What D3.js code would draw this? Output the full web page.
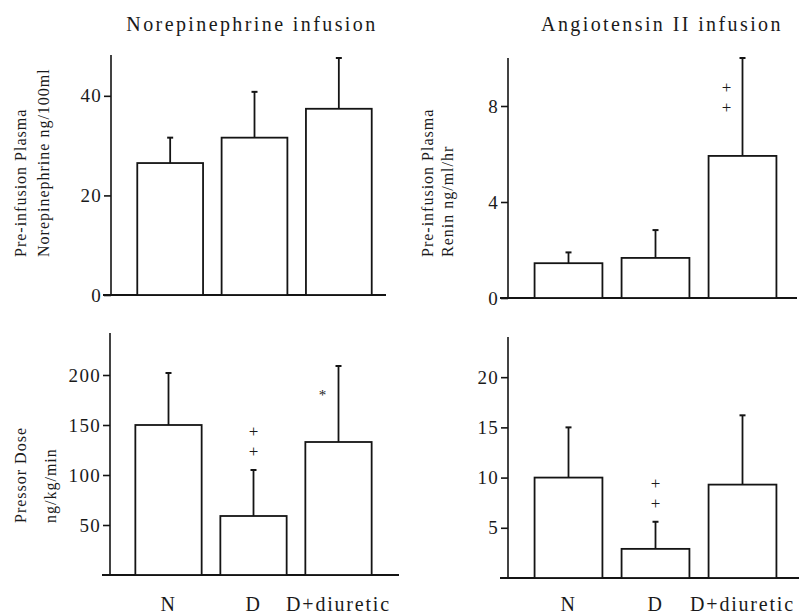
<!DOCTYPE html>
<html>
<head>
<meta charset="utf-8">
<script src="https://cdn.jsdelivr.net/npm/d3@7"></script>
<style>
  body { margin: 0; background: #fff; }
  svg { display: block; }
  text { font-family: "Liberation Serif", "DejaVu Serif", serif; fill: #1a1a1a; }
  .tick text { font-size: 19px; letter-spacing: 1.3px; }
</style>
</head>
<body>
<svg width="799" height="615"></svg>
<script>

const groups = ['N', 'D', 'D+diuretic'];

// pre-infusion plasma norepinephrine, ng/100ml (mean, sem)
const neBaseline = [26.5, 31.6, 37.4];
const neBaselineErr = [5.1, 9.2, 10.2];

// pre-infusion plasma renin, ng/ml/hr
const reninBaseline = [1.45, 1.67, 5.92];
const reninBaselineErr = [0.45, 1.16, 4.08];

// pressor dose, ng/kg/min
const nePressor = [150, 59, 133];
const nePressorErr = [52, 46, 76];

const angPressor = [10, 2.9, 9.3];
const angPressorErr = [5, 2.7, 6.9];

const neTicks = [0, 20, 40];
const reninTicks = [0, 4, 8];
const nePressorTicks = [50, 100, 150, 200];
const angPressorTicks = [5, 10, 15, 20];

const reninMarks = ['', '', '++'];
const nePressorMarks = ['', '++', '*'];
const angPressorMarks = ['', '++', ''];

const panels = [
  { values: neBaseline, errs: neBaselineErr, ticks: neTicks, max: 48.2, marks: null,
    axisX: 111, xr: [128, 381], yr: [295, 55], lineEnd: 386,
    title: 'Norepinephrine infusion', titleX: 252,
    label: ['Pre-infusion Plasma', 'Norepinephrine ng/100ml'], labelX: [20, 43], labelY: 257 },
  { values: reninBaseline, errs: reninBaselineErr, ticks: reninTicks, max: 10, marks: reninMarks,
    axisX: 508, xr: [525, 786], yr: [298, 58], lineEnd: 797,
    title: 'Angiotensin II infusion', titleX: 662,
    label: ['Pre-infusion Plasma', 'Renin ng/ml/hr'], labelX: [427, 447], labelY: 257 },
  { values: nePressor, errs: nePressorErr, ticks: nePressorTicks, max: 242, marks: nePressorMarks,
    axisX: 110, xr: [126, 381], yr: [575, 333], lineEnd: 399, xLabels: true,
    label: ['Pressor Dose', 'ng/kg/min'], labelX: [20, 50], labelY: 523 },
  { values: angPressor, errs: angPressorErr, ticks: angPressorTicks, max: 24, marks: angPressorMarks,
    axisX: 508, xr: [525, 786], yr: [578, 337], lineEnd: 799, xLabels: true }
];

const svg = d3.select('svg');
const ink = '#141414';

panels.forEach(p => {
  const g = svg.append('g');

  const x = d3.scaleBand()
    .domain(groups)
    .range(p.xr)
    .paddingInner(0.22)
    .paddingOuter(0.11);

  const y = d3.scaleLinear()
    .domain([0, p.max])
    .range(p.yr);

  const yAxis = d3.axisLeft(y)
    .tickValues(p.ticks)
    .tickSize(7)
    .tickSizeOuter(0)
    .tickPadding(2)
    .tickFormat(d3.format('d'));

  const ax = g.append('g')
    .attr('transform', `translate(${p.axisX},0)`)
    .call(yAxis);
  ax.selectAll('path, line').attr('stroke', ink).attr('stroke-width', 1.6);
  ax.select('.domain').attr('d', `M0,${p.yr[0]}V${p.yr[1]}`);

  // baseline
  g.append('line')
    .attr('x1', p.axisX - 8).attr('x2', p.lineEnd)
    .attr('y1', y(0)).attr('y2', y(0))
    .attr('stroke', ink).attr('stroke-width', 1.8);

  const rows = groups.map((k, i) => ({ key: k, v: p.values[i], e: p.errs[i], m: p.marks ? p.marks[i] : '' }));

  // error bars first so bar outline sits over them
  g.selectAll('.err')
    .data(rows)
    .enter().append('line')
    .attr('x1', d => x(d.key) + x.bandwidth() / 2)
    .attr('x2', d => x(d.key) + x.bandwidth() / 2)
    .attr('y1', d => y(d.v))
    .attr('y2', d => y(d.v + d.e))
    .attr('stroke', ink).attr('stroke-width', 1.8);

  g.selectAll('.cap')
    .data(rows)
    .enter().append('line')
    .attr('x1', d => x(d.key) + x.bandwidth() / 2 - 3)
    .attr('x2', d => x(d.key) + x.bandwidth() / 2 + 3)
    .attr('y1', d => y(d.v + d.e))
    .attr('y2', d => y(d.v + d.e))
    .attr('stroke', ink).attr('stroke-width', 2);

  g.selectAll('.bar')
    .data(rows)
    .enter().append('rect')
    .attr('x', d => x(d.key))
    .attr('y', d => y(d.v))
    .attr('width', x.bandwidth())
    .attr('height', d => y(0) - y(d.v))
    .attr('fill', '#fff')
    .attr('stroke', ink).attr('stroke-width', 1.8);

  // significance marks: stacked above the cap, or beside the line when the cap hits the top
  rows.filter(d => d.m).forEach(d => {
    const cx = x(d.key) + x.bandwidth() / 2;
    const top = y(d.v + d.e);
    const chars = d.m.split('');
    const besideLine = top - 45 < p.yr[1];
    chars.forEach((c, j) => {
      g.append('text')
        .attr('x', besideLine ? cx - 16 : cx)
        .attr('y', besideLine ? top + 29 + j * 20 : top - 20 * (chars.length - j) + 1)
        .attr('dy', '0.35em')
        .attr('text-anchor', 'middle')
        .style('font-size', c === '*' ? '15px' : '17px')
        .text(c);
    });
  });

  if (p.title) {
    g.append('text')
      .attr('x', p.titleX).attr('y', 31)
      .attr('text-anchor', 'middle')
      .style('font-size', '20px')
      .style('letter-spacing', '2.4px')
      .text(p.title);
  }

  if (p.label) {
    p.label.forEach((t, j) => {
      g.append('text')
        .attr('transform', `translate(${p.labelX[j]},${p.labelY}) rotate(-90)`)
        .attr('dy', '0.35em')
        .style('font-size', '16px')
        .style('letter-spacing', '1px')
        .text(t);
    });
  }

  if (p.xLabels) {
    g.selectAll('.xl')
      .data(groups)
      .enter().append('text')
      .attr('x', d => x(d) + x.bandwidth() / 2)
      .attr('y', 611)
      .attr('text-anchor', 'middle')
      .style('font-size', '20px')
      .style('letter-spacing', '1.8px')
      .text(d => d);
  }
});

</script>
</body>
</html>
